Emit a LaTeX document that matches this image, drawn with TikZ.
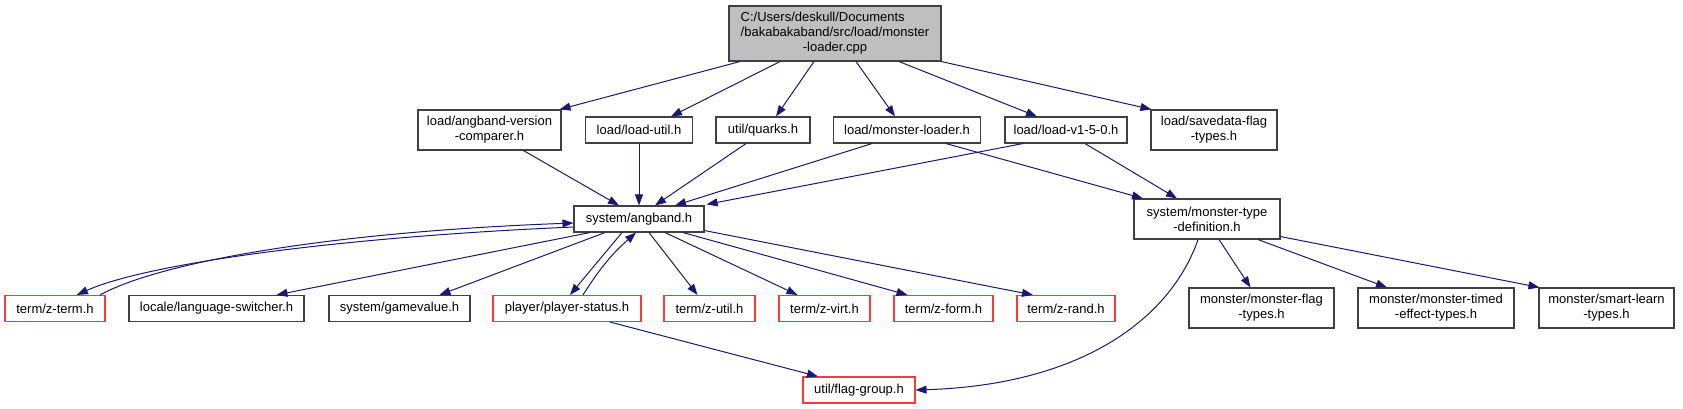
\documentclass[tikz,border=0pt]{standalone}
\usepackage{fontspec}
\setmainfont{Liberation Sans}
\usetikzlibrary{arrows.meta}
\definecolor{edgeblue}{HTML}{191970}
\definecolor{boxgray}{HTML}{404040}
\definecolor{boxred}{HTML}{FF3838}
\definecolor{rootfill}{HTML}{BFBFBF}
\tikzset{
  hfile/.style    = {draw=boxgray, line width=1.1pt, inner sep=0pt, fill=white,
                     minimum height=26pt, font=\fontsize{13}{15}\selectfont,
                     align=center},
  hfiletwo/.style = {hfile, minimum height=40pt},
  extfile/.style  = {hfile, draw=boxred},
  rootfile/.style = {hfile, fill=rootfill, minimum height=55pt},
  dep/.style      = {-{Triangle[length=11pt, width=8pt]}, line width=1pt, edgeblue},
}

\begin{document}
\begin{tikzpicture}[x=1pt, y=-1pt]
    \useasboundingbox (0,0) rectangle (1683,409);

    % source file
    \node[rootfile, minimum width=212pt] (root) at (835,33.5)
      {\begin{tabular}{@{}l@{}}C:/Users/deskull/Documents\\/bakabakaband/src/load/monster\\
       \multicolumn{1}{@{}c@{}}{-loader.cpp}\end{tabular}};

    % direct includes
    \node[hfiletwo, minimum width=143pt] (avc)      at (489.5,130) {load/angband-version\\-comparer.h};
    \node[hfile,    minimum width=107pt] (loadutil) at (639,130)   {load/load-util.h};
    \node[hfile,    minimum width=94pt]  (quarks)   at (763,130)   {util/quarks.h};
    \node[hfile,    minimum width=147pt] (mloaderh) at (907,130)   {load/monster-loader.h};
    \node[hfile,    minimum width=122pt] (loadv150) at (1066,130)  {load/load-v1-5-0.h};
    \node[hfiletwo, minimum width=126pt] (savedata) at (1214,130)  {load/savedata-flag\\-types.h};

    \node[hfile,    minimum width=130pt] (angband)  at (639,219)   {system/angband.h};
    \node[hfiletwo, minimum width=146pt] (mtd)      at (1207,219)  {system/monster-type\\-definition.h};

    \node[extfile,  minimum width=100pt] (zterm)     at (55,308.5)    {term/z-term.h};
    \node[hfile,    minimum width=175pt] (langsw)    at (216.5,308.5) {locale/language-switcher.h};
    \node[hfile,    minimum width=141pt] (gamevalue) at (399.5,308.5) {system/gamevalue.h};
    \node[extfile,  minimum width=148pt] (pstatus)   at (567,308.5)   {player/player-status.h};
    \node[extfile,  minimum width=91pt]  (zutil)     at (709.5,308.5) {term/z-util.h};
    \node[extfile,  minimum width=91pt]  (zvirt)     at (824.5,308.5) {term/z-virt.h};
    \node[extfile,  minimum width=99pt]  (zform)     at (943.5,308.5) {term/z-form.h};
    \node[extfile,  minimum width=98pt]  (zrand)     at (1066,308.5)  {term/z-rand.h};
    \node[hfiletwo, minimum width=145pt] (mflag)     at (1261.5,308)  {monster/monster-flag\\-types.h};
    \node[hfiletwo, minimum width=156pt] (mtimed)    at (1436,308)    {monster/monster-timed\\-effect-types.h};
    \node[hfiletwo, minimum width=135pt] (msmart)    at (1606.5,308)  {monster/smart-learn\\-types.h};

    \node[extfile,  minimum width=112pt] (flaggroup) at (859,390) {util/flag-group.h};

    % include edges
    \draw[dep] ([xshift=-95pt]root.south) -- ([xshift=70pt]avc.north);
    \draw[dep] ([xshift=-55pt]root.south) -- ([xshift=32pt]loadutil.north);
    \draw[dep] ([xshift=-21pt]root.south) -- ([xshift=13pt]quarks.north);
    \draw[dep] ([xshift=21pt]root.south)  -- ([xshift=-12pt]mloaderh.north);
    \draw[dep] ([xshift=64pt]root.south)  -- ([xshift=-29pt]loadv150.north);
    \draw[dep] (root.south east) -- ([xshift=1pt]savedata.north west);

    \draw[dep] ([xshift=34pt]avc.south)      -- ([xshift=-20pt]angband.north);
    \draw[dep] (loadutil.south)              -- (angband.north);
    \draw[dep] ([xshift=-17pt]quarks.south)  -- ([xshift=16pt]angband.north);
    \draw[dep] ([xshift=-35pt]mloaderh.south) -- ([xshift=36pt]angband.north);
    \draw[dep] ([xshift=39pt]mloaderh.south) -- ([xshift=-64pt]mtd.north);
    \draw[dep] ([xshift=-43pt]loadv150.south) -- ([xshift=2pt,yshift=1pt]angband.north east);
    \draw[dep] ([xshift=19pt]loadv150.south) -- ([xshift=-30pt]mtd.north);

    \draw[dep] ([yshift=-8pt]angband.west) .. controls (320,238) and (140,266) .. ([xshift=22pt]zterm.north);
    \draw[dep] ([xshift=45pt]zterm.north) .. controls (160,262) and (330,232) .. ([yshift=-4pt]angband.west);
    \draw[dep] ([xshift=-49pt]angband.south) -- ([xshift=60pt]langsw.north);
    \draw[dep] ([xshift=-34pt]angband.south) -- ([xshift=40pt]gamevalue.north);
    \draw[dep] ([xshift=-17pt]angband.south) -- ([xshift=3pt]pstatus.north);
    \draw[dep] ([xshift=16pt]pstatus.north) to[bend left=8] ([xshift=-3pt]angband.south);
    \draw[dep] ([xshift=10pt]angband.south) -- ([xshift=-12pt]zutil.north);
    \draw[dep] ([xshift=26pt]angband.south) -- ([xshift=-27pt]zvirt.north);
    \draw[dep] ([xshift=44pt]angband.south) -- ([xshift=-36pt]zform.north);
    \draw[dep] ([yshift=2pt]angband.south east) -- ([xshift=-33pt]zrand.north);

    \draw[dep] ([xshift=12pt]mtd.south) -- ([xshift=-11pt]mflag.north);
    \draw[dep] ([xshift=51pt]mtd.south) -- ([xshift=-49pt]mtimed.north);
    \draw[dep] ([yshift=3pt]mtd.south east) -- ([xshift=1pt]msmart.north west);
    \draw[dep] ([xshift=-9pt]mtd.south) .. controls (1170,320) and (1080,385) .. (flaggroup.east);
    \draw[dep] ([xshift=43pt]pstatus.south) -- ([xshift=-41pt]flaggroup.north);
\end{tikzpicture}
\end{document}
